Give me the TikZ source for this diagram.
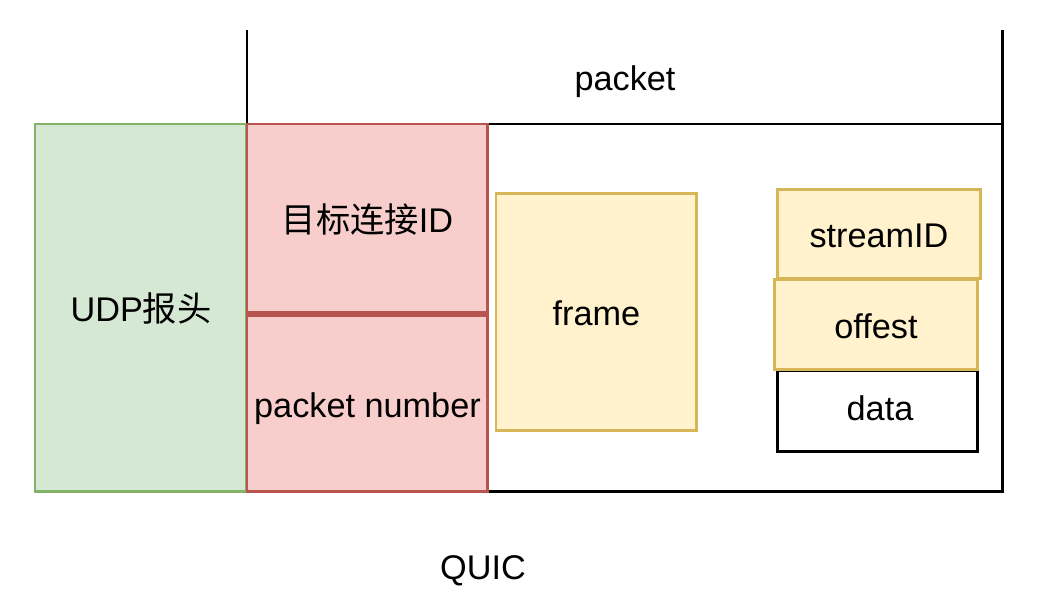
\documentclass[tikz,border=0pt]{standalone}
\usepackage{fontspec}
\setmainfont{Liberation Sans}
\newfontfamily\cjk{Noto Sans CJK SC}
\definecolor{greenfill}{HTML}{D5E8D4}
\definecolor{greenline}{HTML}{82B366}
\definecolor{redfill}{HTML}{F8CECC}
\definecolor{redline}{HTML}{B85450}
\definecolor{yellowfill}{HTML}{FFF2CC}
\definecolor{yellowline}{HTML}{D6B656}
\tikzset{
  lbl/.style={inner sep=0pt,text height=19.5pt,text depth=4pt,font=\fontsize{19.5}{23}\selectfont},
  field/.style={lbl,draw,line width=1.7pt,anchor=north west,outer sep=0pt},
  udpbox/.style={field,fill=greenfill,draw=greenline},
  hdrbox/.style={field,fill=redfill,draw=redline},
  framebox/.style={field,fill=yellowfill,draw=yellowline}
}
\begin{document}
\begin{tikzpicture}[x=0.02cm,y=-0.02cm]
  \useasboundingbox (0,0) rectangle (1042,606);
  \node[field,minimum width=15.12cm,minimum height=7.36cm] (pkt) at (247,124) {};
  \coordinate (top) at (247,30);
  \draw[line width=1.7pt] (pkt.north west) -- (pkt.north west |- top);
  \draw[line width=1.7pt] (pkt.north east) -- (pkt.north east |- top);
  \node[lbl] (pktlabel) at (625,77) {packet};
  \node[udpbox,minimum width=4.24cm,minimum height=7.36cm] (udp) at (35,124) {UDP{\cjk 报头}};
  \node[hdrbox,minimum width=4.82cm,minimum height=3.78cm] (connid) at (247,124) {{\cjk 目标连接}ID};
  \node[hdrbox,minimum width=4.82cm,minimum height=3.54cm] (pktnum) at (247,315) {packet number};
  \node[framebox,minimum width=4.02cm,minimum height=4.76cm] (frame) at (496,193) {frame};
  \node[framebox,minimum width=4.08cm,minimum height=1.8cm] (streamid) at (777,189) {streamID};
  \node[field,minimum width=4.02cm,minimum height=1.64cm] (data) at (777,370) {};
  \node[lbl] (datalabel) at (880,407) {data};
  \node[framebox,minimum width=4.08cm,minimum height=1.82cm] (offest) at (774,279) {offest};
  \node[lbl] (quic) at (483,566) {QUIC};
\end{tikzpicture}
\end{document}
